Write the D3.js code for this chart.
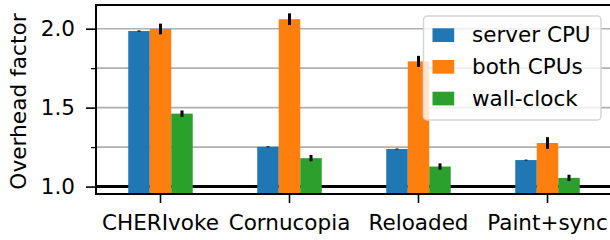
<!DOCTYPE html>
<html>
<head>
<meta charset="utf-8">
<script src="https://cdn.jsdelivr.net/npm/d3@7"></script>
<style>
  body { margin: 0; background: #fff; }
  text { font-family: "DejaVu Sans", sans-serif; fill: #000; }
</style>
</head>
<body>
<script>
'use strict';

// données
const categories = ["CHERIvoke", "Cornucopia", "Reloaded", "Paint+sync"];
const series = ["server CPU", "both CPUs", "wall-clock"];
const couleurs = ["#1f77b4", "#ff7f0e", "#2ca02c"];
const serverCpu = [1.985, 1.252, 1.238, 1.168];
const bothCpus = [1.998, 2.060, 1.793, 1.276];
const wallClock = [1.462, 1.180, 1.127, 1.055];
const errServer = [0.004, 0.003, 0.003, 0.003];
const errBoth = [0.034, 0.037, 0.035, 0.037];
const errWall = [0.020, 0.020, 0.020, 0.020];
const yTicks = [1.0, 1.5, 2.0];
const yMinor = [1.25, 1.75];

const valeurs = [serverCpu, bothCpus, wallClock];
const erreurs = [errServer, errBoth, errWall];

const W = 610, H = 240;
const gauche = 96, droite = 612, haut = 5, bas = 194;
const taille = "21.5px";

const canevas = d3.select("body").append("svg")
  .attr("width", W)
  .attr("height", H);

// échelles
const x = d3.scaleBand()
  .domain(categories)
  .range([gauche, droite]);

const xs = d3.scaleBand()
  .domain(series)
  .range([x.bandwidth() / 4, x.bandwidth() * 3 / 4]);

const y = d3.scaleLinear()
  .domain([0.953, 2.15])
  .range([bas, haut]);

// grille
canevas.append("g")
  .selectAll("line")
  .data(yTicks.concat(yMinor))
  .enter()
  .append("line")
    .attr("x1", gauche).attr("x2", droite)
    .attr("y1", d => y(d)).attr("y2", d => y(d))
    .style("stroke", "#b0b0b0")
    .style("stroke-width", 1.6);

// ligne de référence à 1.0
canevas.append("line")
  .attr("x1", gauche).attr("x2", droite)
  .attr("y1", y(1)).attr("y2", y(1))
  .style("stroke", "#000")
  .style("stroke-width", 3);

// barres
const donnees = [];
categories.forEach((c, i) => {
  series.forEach((s, j) => {
    donnees.push({cat: c, ser: s, j: j, value: valeurs[j][i], err: erreurs[j][i]});
  });
});

canevas.append("g")
  .selectAll("rect")
  .data(donnees)
  .enter()
  .append("rect")
    .attr("x", d => x(d.cat) + xs(d.ser))
    .attr("y", d => y(d.value))
    .attr("width", xs.bandwidth())
    .attr("height", d => bas - y(d.value))
    .style("fill", d => couleurs[d.j]);

// barres d'erreur
canevas.append("g")
  .selectAll("line")
  .data(donnees)
  .enter()
  .append("line")
    .attr("x1", d => x(d.cat) + xs(d.ser) + xs.bandwidth() / 2)
    .attr("x2", d => x(d.cat) + xs(d.ser) + xs.bandwidth() / 2)
    .attr("y1", d => y(d.value - d.err))
    .attr("y2", d => y(d.value + d.err))
    .style("stroke", "#000")
    .style("stroke-width", 3);

// axe des Y
const axeY = canevas.append("g")
  .attr("transform", `translate(${gauche},0)`)
  .call(d3.axisLeft(y).tickValues(yTicks).tickFormat(d3.format(".1f")).tickSize(10).tickPadding(11));
axeY.select(".domain").remove();
axeY.selectAll("text").style("font-size", taille).style("font-family", "DejaVu Sans");
axeY.selectAll("line").style("stroke-width", 1.6);

canevas.append("g")
  .attr("transform", `translate(${gauche},0)`)
  .call(d3.axisLeft(y).tickValues(yMinor).tickFormat("").tickSize(5))
  .call(g => g.select(".domain").remove())
  .selectAll("line").style("stroke-width", 1.2);

// axe des X
const axeX = canevas.append("g")
  .attr("transform", `translate(0,${bas})`)
  .call(d3.axisBottom(x).tickSize(9).tickPadding(12));
axeX.select(".domain").remove();
axeX.selectAll("text").style("font-size", taille).style("font-family", "DejaVu Sans");
axeX.selectAll("line").style("stroke-width", 1.6);

// cadre
canevas.append("rect")
  .attr("x", gauche).attr("y", haut)
  .attr("width", droite - gauche).attr("height", bas - haut)
  .style("fill", "none")
  .style("stroke", "#000")
  .style("stroke-width", 2);

// titre de l'axe Y
canevas.append("text")
  .attr("transform", "translate(26,101.5) rotate(-90)")
  .attr("text-anchor", "middle")
  .style("font-size", "21.7px")
  .text("Overhead factor");

// légende
const leg = canevas.append("g").attr("transform", "translate(423.5,16)");
leg.append("rect")
  .attr("width", 177.5).attr("height", 104)
  .attr("rx", 4)
  .style("fill", "rgba(255,255,255,0.8)")
  .style("stroke", "#d5d5d5")
  .style("stroke-width", 1.5);

const item = leg.selectAll("g.item")
  .data(series)
  .enter()
  .append("g")
    .attr("transform", (d, i) => `translate(9,${12.3 + i * 31.7})`);
item.append("rect")
  .attr("width", 21.7).attr("height", 13.7)
  .style("fill", (d, i) => couleurs[i]);
item.append("text")
  .attr("x", 39.5).attr("y", 14)
  .style("font-size", taille)
  .text(d => d);
</script>
</body>
</html>
